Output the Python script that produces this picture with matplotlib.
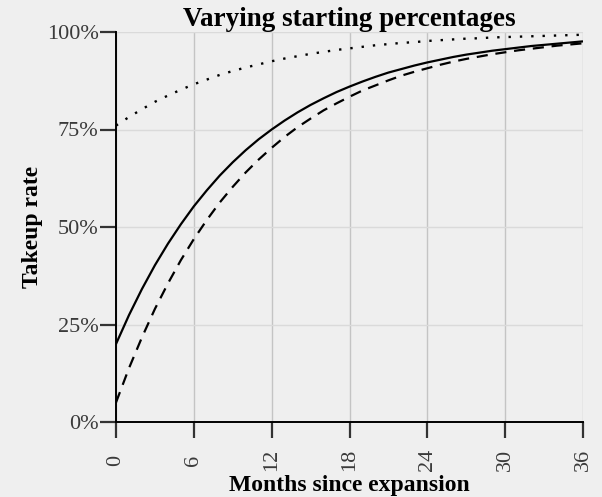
import matplotlib
matplotlib.use("Agg")
import matplotlib.pyplot as plt
from matplotlib.ticker import FuncFormatter

# --- Data ---
months = list(range(0, 37))
start_20 = [0.200, 0.274, 0.341, 0.402, 0.457, 0.507, 0.553, 0.594, 0.632, 0.666,
            0.697, 0.725, 0.750, 0.773, 0.794, 0.813, 0.830, 0.846, 0.860, 0.873,
            0.885, 0.896, 0.905, 0.914, 0.922, 0.929, 0.936, 0.942, 0.947, 0.952,
            0.956, 0.960, 0.964, 0.967, 0.970, 0.973, 0.976]
start_05 = [0.050, 0.138, 0.217, 0.290, 0.355, 0.415, 0.469, 0.518, 0.563, 0.603,
            0.640, 0.673, 0.703, 0.731, 0.756, 0.778, 0.799, 0.817, 0.834, 0.850,
            0.863, 0.876, 0.888, 0.898, 0.907, 0.916, 0.924, 0.931, 0.937, 0.943,
            0.948, 0.953, 0.957, 0.961, 0.965, 0.968, 0.971]
start_76 = [0.760, 0.782, 0.802, 0.821, 0.837, 0.852, 0.866, 0.878, 0.890, 0.900,
            0.909, 0.917, 0.925, 0.932, 0.938, 0.944, 0.949, 0.954, 0.958, 0.962,
            0.966, 0.969, 0.972, 0.974, 0.977, 0.979, 0.981, 0.983, 0.984, 0.986,
            0.987, 0.988, 0.989, 0.990, 0.991, 0.992, 0.993]
x_ticks = [0, 6, 12, 18, 24, 30, 36]
y_ticks = [0, 0.25, 0.5, 0.75, 1.0]

plt.rcParams["font.family"] = ["Liberation Serif", "DejaVu Serif"]
bg = "#efefef"

fig = plt.figure(figsize=(6.02, 4.97), dpi=100, facecolor=bg)
ax = fig.add_axes([116 / 602, 1 - 422 / 497, (583 - 116) / 602, (422 - 32) / 497])
ax.set_facecolor(bg)

ax.plot(months, start_20, color="black", lw=1.6, solid_capstyle="butt")
ax.plot(months, start_05, color="black", lw=1.6, linestyle=(0, (5, 3.5)))
ax.plot(months, start_76, color="black", lw=1.7, linestyle=(0, (1, 3.8)))

ax.set_xlim(0, 36)
ax.set_ylim(0, 1)
ax.set_xticks(x_ticks)
ax.set_yticks(y_ticks)
ax.yaxis.set_major_formatter(FuncFormatter(lambda v, _: f"{v * 100:.0f}%"))
ax.tick_params(axis="both", direction="out", length=11.5, width=1.6, color="#333333",
               labelsize=16, labelcolor="#3a3a3a")
ax.tick_params(axis="y", pad=1)
ax.tick_params(axis="x", labelrotation=90, pad=16)
for lab in ax.get_xticklabels():
    lab.set_va("center")

ax.grid(True, axis="x", color="#c4c4c4", lw=1)
ax.grid(True, axis="y", color="#dadada", lw=1)
ax.set_axisbelow(True)
for s in ["top", "right"]:
    ax.spines[s].set_visible(False)
for s in ["left", "bottom"]:
    ax.spines[s].set_color("black")
    ax.spines[s].set_linewidth(1.4)

ax.set_title("Varying starting percentages", fontsize=19.5, fontweight="bold", pad=-1.2)
ax.set_xlabel("Months since expansion", fontsize=17, fontweight="bold", labelpad=3)
ax.set_ylabel("Takeup rate", fontsize=17, fontweight="bold", labelpad=3)

fig.savefig("out.png", dpi=100, facecolor=bg)
